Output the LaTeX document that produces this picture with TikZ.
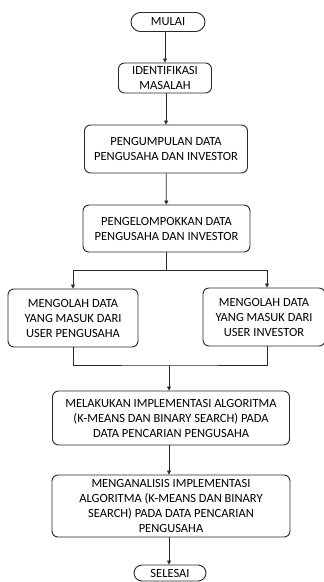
\documentclass[tikz,border=0pt]{standalone}
\usepackage{fontspec}
\setmainfont{Carlito}
\usetikzlibrary{arrows.meta, positioning, shapes.misc}
\definecolor{garis}{RGB}{40, 40, 40}
\tikzset{
    proses/.style={rectangle, draw=garis, fill=white, text=black, line width=0.9pt, rounded corners=6pt, align=center, inner sep=1pt, font=\fontsize{12.5}{15}\selectfont},
    terminal/.style={rounded rectangle, draw=garis, fill=white, text=black, line width=0.9pt, align=center, inner sep=1pt, font=\fontsize{12.5}{15}\selectfont},
    panah/.style={-{Triangle[length=4pt, width=4pt]}, garis, line width=0.8pt},
    garisan/.style={garis, line width=0.8pt}
}
\begin{document}
\begin{tikzpicture}[x=1pt, y=1pt]
            \useasboundingbox (0,0) rectangle (324,-582);
            \node (mulai) [terminal, minimum width=76pt, minimum height=19pt] at (168,-22) {MULAI};
            \node (ident) [proses, minimum width=93pt, minimum height=30pt] at (165,-78) {IDENTIFIKASI\\MASALAH};
            \node (kumpul) [proses, minimum width=163pt, minimum height=48pt] at (166,-149) {PENGUMPULAN DATA\\PENGUSAHA DAN INVESTOR};
            \node (kelompok) [proses, minimum width=167pt, minimum height=47pt] at (166.5,-228.5) {PENGELOMPOKKAN DATA\\PENGUSAHA DAN INVESTOR};
            \node (olahusaha) [proses, minimum width=130pt, minimum height=58pt] at (73,-318) {MENGOLAH DATA\\YANG MASUK DARI\\USER PENGUSAHA};
            \node (olahinvest) [proses, minimum width=122pt, minimum height=58pt] at (264,-317) {MENGOLAH DATA\\YANG MASUK DARI\\USER INVESTOR};
            \node (implementasi) [proses, minimum width=237pt, minimum height=54pt] at (171,-418) {MELAKUKAN IMPLEMENTASI ALGORITMA\\(K-MEANS DAN BINARY SEARCH) PADA\\DATA PENCARIAN PENGUSAHA};
            \node (analisis) [proses, minimum width=238pt, minimum height=62pt] at (171,-506) {MENGANALISIS IMPLEMENTASI\\ALGORITMA (K-MEANS DAN BINARY\\SEARCH) PADA DATA PENCARIAN\\PENGUSAHA};
            \node (selesai) [terminal, minimum width=74pt, minimum height=16pt] at (170,-573) {SELESAI};

            \coordinate (cabang) at (166,-270);
            \coordinate (gabung) at (169,-365);

            \draw [panah] (mulai.south -| ident.north) -- (ident.north);
            \draw [panah] (ident.south -| 166,0) -- (kumpul.north -| 166,0);
            \draw [panah] (kumpul) -- (kelompok);
            \draw [garisan] (kelompok.south -| cabang) -- (cabang);
            \draw [panah] (cabang) -| (olahusaha.north);
            \draw [panah] (cabang) -| ([xshift=3pt]olahinvest.north);
            \draw [garisan] (olahusaha.south) |- (gabung) -| ([xshift=3pt]olahinvest.south);
            \draw [panah] (gabung) -- (implementasi.north -| gabung);
            \draw [panah] (implementasi.south -| gabung) -- (analisis.north -| gabung);
            \draw [panah] (analisis.south -| gabung) -- (selesai.north -| gabung);
        \end{tikzpicture}
\end{document}
